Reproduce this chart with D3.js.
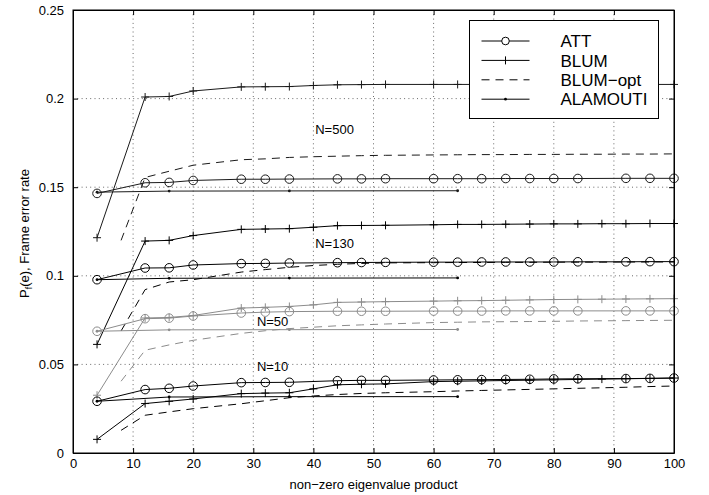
<!DOCTYPE html>
<html>
<head>
<meta charset="utf-8">
<script src="https://cdn.jsdelivr.net/npm/d3@7"></script>
<style>
  body { margin: 0; background: #fff; }
  text { font-family: "Liberation Sans", Arial, Helvetica, sans-serif; }
</style>
</head>
<body>
<script>
// x positions (non-zero eigenvalue product) where each scheme was evaluated
var xATT  = [4, 12, 16, 20, 28, 32, 36, 44, 48, 52, 60, 64, 68, 72, 76, 80, 84, 92, 96, 100];
var xBLUM = [4, 12, 16, 20, 28, 32, 36, 40, 44, 48, 52, 60, 64, 68, 72, 76, 80, 84, 88, 92, 96, 100];
var xOPT  = [8, 12, 16, 20, 28, 32, 36, 40, 44, 48, 52, 60, 64, 68, 72, 76, 80, 84, 88, 92, 96, 100];
var xALAM = [4, 16, 36, 64];

// N=500
var att500  = [0.1465, 0.1525, 0.1527, 0.1538, 0.1545, 0.1545, 0.1546, 0.1547, 0.1547, 0.1548, 0.1548, 0.1548, 0.1548, 0.1549, 0.1549, 0.1549, 0.1549, 0.155, 0.155, 0.155];
var blum500 = [0.1215, 0.2009, 0.2012, 0.2043, 0.2066, 0.2067, 0.2068, 0.2074, 0.2078, 0.2079, 0.208, 0.208, 0.208, 0.208, 0.208, 0.208, 0.208, 0.208, 0.208, 0.208, 0.208, 0.208];
var opt500  = [0.120, 0.1555, 0.159, 0.1624, 0.1655, 0.166, 0.1668, 0.1672, 0.1675, 0.1678, 0.168, 0.1682, 0.1683, 0.1684, 0.1684, 0.1685, 0.1685, 0.1686, 0.1686, 0.1687, 0.1687, 0.1688];
var alam500 = [0.1472, 0.1478, 0.1479, 0.148];

// N=130
var att130  = [0.0978, 0.1044, 0.1045, 0.1061, 0.1069, 0.107, 0.1072, 0.1074, 0.1075, 0.1076, 0.1077, 0.1077, 0.1078, 0.1078, 0.1078, 0.1078, 0.1079, 0.1079, 0.108, 0.108];
var blum130 = [0.0613, 0.1196, 0.12, 0.1227, 0.1262, 0.1264, 0.1266, 0.1274, 0.1283, 0.1284, 0.1285, 0.1288, 0.129, 0.129, 0.1291, 0.1292, 0.1293, 0.1293, 0.1294, 0.1294, 0.1295, 0.1295];
var opt130  = [0.0689, 0.0922, 0.0965, 0.0978, 0.1021, 0.1035, 0.1048, 0.1058, 0.1065, 0.107, 0.1073, 0.1074, 0.1075, 0.1075, 0.1076, 0.1076, 0.1077, 0.1077, 0.1077, 0.1078, 0.1078, 0.1078];
var alam130 = [0.0978, 0.0986, 0.0987, 0.0988];

// N=50
var att50  = [0.0687, 0.0758, 0.0761, 0.0773, 0.079, 0.0795, 0.0798, 0.08, 0.08, 0.08, 0.0801, 0.0801, 0.0801, 0.0802, 0.0802, 0.0802, 0.0802, 0.0802, 0.0802, 0.0802];
var blum50 = [0.0326, 0.0762, 0.0765, 0.0776, 0.0818, 0.0822, 0.0827, 0.0836, 0.085, 0.0852, 0.0854, 0.0857, 0.0859, 0.086, 0.0862, 0.0864, 0.0866, 0.0867, 0.0868, 0.0869, 0.087, 0.0871];
var opt50  = [0.0405, 0.058, 0.061, 0.0636, 0.0675, 0.069, 0.0702, 0.071, 0.0718, 0.0723, 0.0728, 0.0736, 0.0738, 0.074, 0.0741, 0.0742, 0.0743, 0.0745, 0.0746, 0.0747, 0.0748, 0.0749];
var alam50 = [0.0687, 0.0695, 0.0696, 0.0697];

// N=10
var att10  = [0.0292, 0.0358, 0.0365, 0.0378, 0.0397, 0.0398, 0.0399, 0.0408, 0.041, 0.041, 0.0412, 0.0413, 0.0414, 0.0415, 0.0416, 0.0418, 0.0419, 0.042, 0.0421, 0.0423];
var blum10 = [0.0077, 0.0279, 0.0292, 0.0305, 0.0335, 0.0338, 0.034, 0.0362, 0.0385, 0.0388, 0.039, 0.0403, 0.0405, 0.0407, 0.0409, 0.0411, 0.0413, 0.0415, 0.0417, 0.0419, 0.0421, 0.0423];
var opt10  = [0.0128, 0.0213, 0.0232, 0.025, 0.0278, 0.0295, 0.0312, 0.0322, 0.033, 0.0336, 0.034, 0.0346, 0.035, 0.0353, 0.0356, 0.0359, 0.0362, 0.0365, 0.0368, 0.0371, 0.0375, 0.0378];
var alam10 = [0.0292, 0.0316, 0.0318, 0.0318];

// N labels and where they sit, in data units
var nLabels = ['N=500', 'N=130', 'N=50', 'N=10'];
var nLabelX = [40.3, 40.3, 30.6, 30.6];
var nLabelY = [0.1828, 0.1183, 0.0741, 0.0491];

var legendNames = ['ATT', 'BLUM', 'BLUM\u2212opt', 'ALAMOUTI'];
var xTicks = [0, 10, 20, 30, 40, 50, 60, 70, 80, 90, 100];
var yTicks = [0, 0.05, 0.1, 0.15, 0.2, 0.25];

var width = 709;
var height = 495;
// plot box edges (window.top is reserved, so prefix them)
var pLeft = 73, pRight = 674, pTop = 10, pBottom = 453;

var x = d3.scaleLinear().domain([0, 100]).range([pLeft, pRight]);
var y = d3.scaleLinear().domain([0, 0.25]).range([pBottom, pTop]);

var svg = d3.select('body')
  .append('svg')
  .attr('width', width)
  .attr('height', height)
  .style('display', 'block');

// dotted grid (interior ticks only, the box covers the edges)
svg.append('g')
  .selectAll('line')
  .data(xTicks.slice(1, -1))
  .enter()
  .append('line')
    .attr('x1', function (d) { return x(d); })
    .attr('x2', function (d) { return x(d); })
    .attr('y1', pTop)
    .attr('y2', pBottom)
    .attr('stroke', '#444')
    .attr('stroke-width', 0.8)
    .attr('stroke-dasharray', '1,3.3');
svg.append('g')
  .selectAll('line')
  .data(yTicks.slice(1, -1))
  .enter()
  .append('line')
    .attr('y1', function (d) { return y(d); })
    .attr('y2', function (d) { return y(d); })
    .attr('x1', pLeft)
    .attr('x2', pRight)
    .attr('stroke', '#444')
    .attr('stroke-width', 0.8)
    .attr('stroke-dasharray', '1,3.3');

// build the curve list from the arrays above
var groups = [
  {color: '#1a1a1a', att: att500, blum: blum500, opt: opt500, alam: alam500},
  {color: '#000', att: att130, blum: blum130, opt: opt130, alam: alam130},
  {color: '#8c8c8c', att: att50, blum: blum50, opt: opt50, alam: alam50},
  {color: '#000', att: att10, blum: blum10, opt: opt10, alam: alam10}
];

function pairs(xs, ys) {
  return xs.map(function (v, i) { return [v, ys[i]]; });
}

var line = d3.line()
  .x(function (d) { return x(d[0]); })
  .y(function (d) { return y(d[1]); });

var plot = svg.append('g');

groups.forEach(function (g) {
  var att = pairs(xATT, g.att);
  var blum = pairs(xBLUM, g.blum);
  var opt = pairs(xOPT, g.opt);
  var alam = pairs(xALAM, g.alam);

  plot.append('path').attr('d', line(alam))
    .attr('fill', 'none').attr('stroke', g.color).attr('stroke-width', 1);
  plot.append('path').attr('d', line(opt))
    .attr('fill', 'none').attr('stroke', g.color).attr('stroke-width', 1)
    .attr('stroke-dasharray', '8,6');
  plot.append('path').attr('d', line(blum))
    .attr('fill', 'none').attr('stroke', g.color).attr('stroke-width', 1);
  plot.append('path').attr('d', line(att))
    .attr('fill', 'none').attr('stroke', g.color).attr('stroke-width', 1);

  // markers
  plot.append('g').selectAll('circle')
    .data(alam).enter().append('circle')
      .attr('cx', function (d) { return x(d[0]); })
      .attr('cy', function (d) { return y(d[1]); })
      .attr('r', 1.4)
      .attr('fill', g.color);
  plot.append('g').selectAll('path')
    .data(blum).enter().append('path')
      .attr('transform', function (d) { return 'translate(' + x(d[0]) + ',' + y(d[1]) + ')'; })
      .attr('d', 'M-4,0H4M0,-4V4')
      .attr('stroke', g.color)
      .attr('stroke-width', 1);
  plot.append('g').selectAll('circle')
    .data(att).enter().append('circle')
      .attr('cx', function (d) { return x(d[0]); })
      .attr('cy', function (d) { return y(d[1]); })
      .attr('r', 4.3)
      .attr('fill', 'none')
      .attr('stroke', g.color)
      .attr('stroke-width', 1);
});

// N labels
svg.append('g')
  .selectAll('text')
  .data(nLabels)
  .enter()
  .append('text')
    .attr('x', function (d, i) { return x(nLabelX[i]); })
    .attr('y', function (d, i) { return y(nLabelY[i]); })
    .attr('dy', '0.36em')
    .attr('font-size', 13)
    .text(function (d) { return d; });

// axes: ticks point inward, box on all four sides
var xAxis = d3.axisBottom(x).tickValues(xTicks).tickSizeInner(-5).tickSizeOuter(0).tickPadding(6)
  .tickFormat(d3.format('d'));
var yAxis = d3.axisLeft(y).tickValues(yTicks).tickSizeInner(-5).tickSizeOuter(0).tickPadding(9)
  .tickFormat(function (d) { return d === 0 ? '0' : String(+d.toFixed(2)); });
var xTop = d3.axisTop(x).tickValues(xTicks).tickSizeInner(-5).tickSizeOuter(0).tickFormat('');
var yRight = d3.axisRight(y).tickValues(yTicks).tickSizeInner(-5).tickSizeOuter(0).tickFormat('');

svg.append('g').attr('transform', 'translate(0,' + pBottom + ')').call(xAxis);
svg.append('g').attr('transform', 'translate(' + pLeft + ',0)').call(yAxis);
svg.append('g').attr('transform', 'translate(0,' + pTop + ')').call(xTop);
svg.append('g').attr('transform', 'translate(' + pRight + ',0)').call(yRight);

svg.selectAll('.domain').attr('stroke', '#000');
svg.selectAll('.tick line').attr('stroke', '#000');
svg.selectAll('.tick text')
  .attr('font-size', 13)
  .attr('fill', '#000')
  .style('font-family', '"Liberation Sans", Arial, sans-serif');

svg.append('rect')
  .attr('x', pLeft).attr('y', pTop)
  .attr('width', pRight - pLeft).attr('height', pBottom - pTop)
  .attr('fill', 'none').attr('stroke', '#000').attr('stroke-width', 1);

// axis titles
svg.append('text')
  .attr('x', (pLeft + pRight) / 2)
  .attr('y', 489)
  .attr('text-anchor', 'middle')
  .attr('font-size', 13)
  .text('non\u2212zero eigenvalue product');

var yTitle = svg.append('text')
  .attr('text-anchor', 'middle')
  .attr('font-size', 13)
  .attr('transform', 'translate(29,' + ((pTop + pBottom) / 2 + 2) + ')rotate(-90)');
yTitle.append('tspan').text('P');
yTitle.append('tspan').attr('font-size', 9).attr('dy', 3).text('f');
yTitle.append('tspan').attr('dy', -3).text('(e), Frame error rate');

// legend
var lg = svg.append('g').attr('transform', 'translate(469.5,20.5)');
lg.append('rect')
  .attr('width', 189)
  .attr('height', 98)
  .attr('fill', '#fff')
  .attr('stroke', '#000')
  .attr('stroke-width', 1);

var rows = lg.selectAll('.row')
  .data(legendNames)
  .enter()
  .append('g')
    .attr('class', 'row')
    .attr('transform', function (d, i) { return 'translate(0,' + (20.5 + i * 19.4) + ')'; });

rows.append('line')
  .attr('x1', 12).attr('x2', 60)
  .attr('stroke', '#000')
  .attr('stroke-width', 1)
  .attr('stroke-dasharray', function (d, i) { return i === 2 ? '8,6' : null; });

rows.append('text')
  .attr('x', 91)
  .attr('dy', '0.36em')
  .attr('font-size', 17)
  .text(function (d) { return d; });

lg.select('.row:nth-child(2)').append('circle')
  .attr('cx', 36).attr('r', 3.8).attr('fill', '#fff').attr('stroke', '#000');
lg.select('.row:nth-child(3)').append('path')
  .attr('d', 'M36,-4V4').attr('stroke', '#000');
lg.select('.row:nth-child(5)').append('circle')
  .attr('cx', 36).attr('r', 1.4).attr('fill', '#000');
</script>
</body>
</html>
